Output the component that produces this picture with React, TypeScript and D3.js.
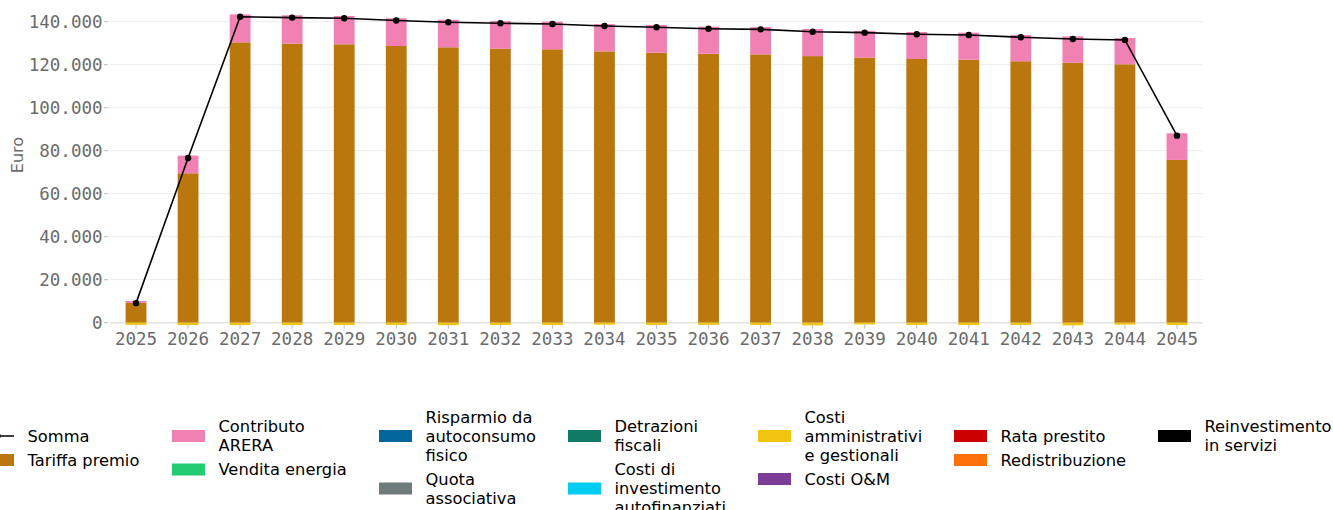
import React from "react";
import * as d3 from "d3";

const years = ["2025","2026","2027","2028","2029","2030","2031","2032","2033","2034","2035","2036","2037","2038","2039","2040","2041","2042","2043","2044","2045"];
const tariffaPremio = [9200, 69500, 130400, 129800, 129500, 128700, 128100, 127400, 127150, 126200, 125600, 125100, 124800, 124000, 123300, 122650, 122300, 121600, 120900, 120200, 75700];
const contributoArera = [900, 8200, 13000, 13200, 13150, 12900, 12800, 12900, 12850, 12700, 12850, 12600, 12700, 12600, 12400, 12550, 12600, 12200, 12300, 12200, 12400];
const costiAmministrativi = [-1000, -1100, -1100, -1100, -1050, -1050, -1150, -1050, -1050, -900, -1050, -1000, -1050, -1250, -800, -1050, -1100, -1050, -1250, -900, -1100];
const yTicks = [0, 20000, 40000, 60000, 80000, 100000, 120000, 140000];

const legendColumns = [
  [
    { label: ["Somma"], color: "#000", kind: "line" },
    { label: ["Tariffa premio"], color: "#B9770E", kind: "bar" },
  ],
  [
    { label: ["Contributo", "ARERA"], color: "#F081B2", kind: "bar" },
    { label: ["Vendita energia"], color: "#23CC71", kind: "bar" },
  ],
  [
    { label: ["Risparmio da", "autoconsumo", "fisico"], color: "#03669A", kind: "bar" },
    { label: ["Quota", "associativa"], color: "#707B7C", kind: "bar" },
  ],
  [
    { label: ["Detrazioni", "fiscali"], color: "#117A65", kind: "bar" },
    { label: ["Costi di", "investimento", "autofinanziati"], color: "#00CCF2", kind: "bar" },
  ],
  [
    { label: ["Costi", "amministrativi", "e gestionali"], color: "#F1C40F", kind: "bar" },
    { label: ["Costi O&M"], color: "#7D3C98", kind: "bar" },
  ],
  [
    { label: ["Rata prestito"], color: "#CC0000", kind: "bar" },
    { label: ["Redistribuzione"], color: "#FF6F0A", kind: "bar" },
  ],
  [
    { label: ["Reinvestimento", "in servizi"], color: "#000000", kind: "bar" },
  ],
];
const legendX = [-19, 172, 379, 568, 758, 954, 1158];

export default function App() {
  const W = 1333, H = 510;
  const left = 110, right = 1203, y0 = 322.7, yTop = 21.7;
  const x = d3.scaleBand<string>().domain(years).range([left, right]).paddingInner(0).paddingOuter(0);
  const y = d3.scaleLinear().domain([0, 140000]).range([y0, yTop]);
  const bw = x.bandwidth() * 0.4;
  const cx = (yr: string) => (x(yr) as number) + x.bandwidth() / 2;
  const somma = years.map((_, i) => tariffaPremio[i] + contributoArera[i] + costiAmministrativi[i]);
  const line = d3.line<number>().x((_, i) => cx(years[i])).y((d) => y(d));
  const tickColor = "#6b6b6b";
  const mono = "'DejaVu Sans Mono', monospace";
  const sans = "'DejaVu Sans', sans-serif";
  const LH = 19;

  const legendEls: React.ReactNode[] = [];
  legendColumns.forEach((col, ci) => {
    let c = 436;
    col.forEach((it, ii) => {
      if (ii > 0) c += 9.5 * (col[ii - 1].label.length + it.label.length) + 5;
      const sx = legendX[ci];
      const n = it.label.length;
      legendEls.push(
        <g key={`${ci}-${ii}`}>
          {it.kind === "line" ? (
            <g>
              <line x1={sx} x2={sx + 33} y1={c} y2={c} stroke="#000" strokeWidth={1.5} />
              <circle cx={sx + 16.5} cy={c} r={3.2} fill="#000" />
            </g>
          ) : (
            <rect x={sx} y={c - 6} width={33} height={12} fill={it.color} />
          )}
          {it.label.map((t, li) => (
            <text key={li} x={sx + 46.5} y={c + (li - (n - 1) / 2) * LH} dominantBaseline="central" fontFamily={sans} fontSize={16.3} fill="#000">{t}</text>
          ))}
        </g>
      );
    });
  });

  return (
    <svg width={W} height={H} style={{ position: "absolute", left: 0, top: 0, background: "#fff" }}>
      {yTicks.map((t) => (
        <g key={t}>
          <line x1={left} x2={right} y1={y(t)} y2={y(t)} stroke={t === 0 ? "#e2e2e2" : "#ececec"} strokeWidth={t === 0 ? 1.5 : 1} />
          <line x1={left - 6} x2={left - 2} y1={y(t)} y2={y(t)} stroke="#bbb" strokeWidth={1} />
          <text x={left - 7.5} y={y(t)} textAnchor="end" dominantBaseline="central" fontFamily={mono} fontSize={17.5} fill={tickColor}>{d3.format(",")(t).replace(/,/g, ".")}</text>
        </g>
      ))}
      {years.map((yr, i) => (
        <g key={yr}>
          <rect x={cx(yr) - bw / 2} y={y(tariffaPremio[i])} width={bw} height={y(0) - y(tariffaPremio[i])} fill="#B9770E" />
          <rect x={cx(yr) - bw / 2} y={y(tariffaPremio[i] + contributoArera[i])} width={bw} height={y(tariffaPremio[i]) - y(tariffaPremio[i] + contributoArera[i])} fill="#F081B2" />
          <rect x={cx(yr) - bw / 2} y={y(0)} width={bw} height={y(costiAmministrativi[i]) - y(0)} fill="#F1C40F" />
          <line x1={cx(yr)} x2={cx(yr)} y1={y0 + 2} y2={y0 + 6} stroke="#bbb" />
          <text x={cx(yr)} y={339} textAnchor="middle" dominantBaseline="central" fontFamily={mono} fontSize={17.5} fill={tickColor}>{yr}</text>
        </g>
      ))}
      <path d={line(somma) || ""} fill="none" stroke="#000" strokeWidth={1.6} />
      {somma.map((v, i) => (
        <circle key={i} cx={cx(years[i])} cy={y(v)} r={3.2} fill="#000" />
      ))}
      <text transform="translate(17,155) rotate(-90)" textAnchor="middle" dominantBaseline="central" fontFamily={sans} fontSize={16} fill={tickColor}>Euro</text>
      {legendEls}
    </svg>
  );
}
